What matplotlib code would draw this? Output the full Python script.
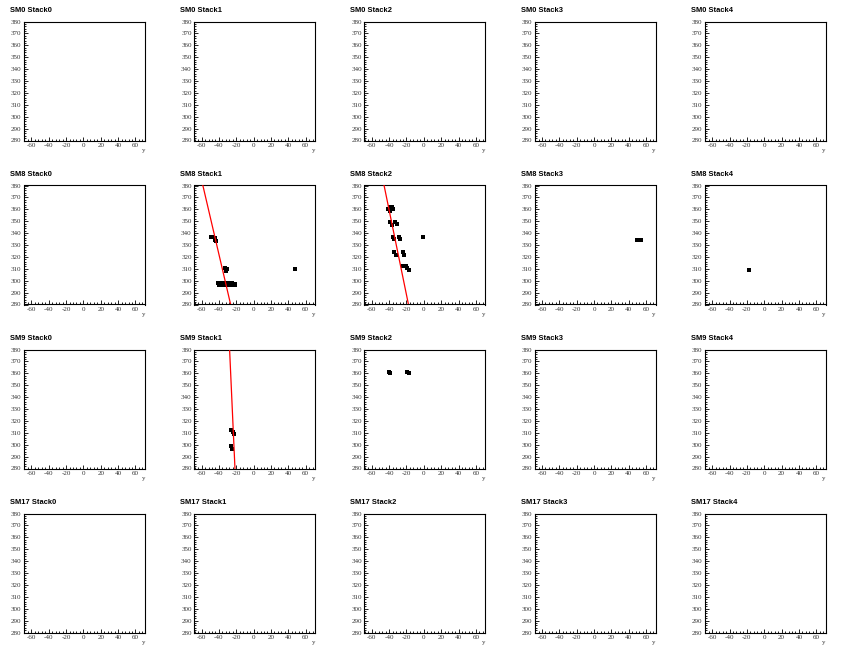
import matplotlib
matplotlib.use("Agg")
import matplotlib.pyplot as plt
from matplotlib.ticker import MultipleLocator
import numpy as np

plt.rcParams["axes.unicode_minus"] = False

# ---- data ----
modules = ["SM0", "SM8", "SM9", "SM17"]
stacks = ["Stack0", "Stack1", "Stack2", "Stack3", "Stack4"]
x_range = (-68.5, 71.0)
y_range = (280, 380)
x_ticks = [-60, -40, -20, 0, 20, 40, 60]
y_ticks = [280, 290, 300, 310, 320, 330, 340, 350, 360, 370, 380]

# hits: (module, stack) -> (y-coordinate list, z-coordinate list)
hits_sm8_s1_y = [-49, -47, -45, -44, -43, -33, -32, -31, -32,
                 -41, -39, -37, -35, -33, -31, -29, -27, -25, -23, -21,
                 -40, -38, -36, -34, -32, -30, -28, -26, -24, -22, 48]
hits_sm8_s1_z = [336.5, 336.5, 336, 334.5, 333.5, 311, 310, 309.5, 308.5,
                 298, 298, 298, 298, 298, 298, 298, 298, 298, 297.5, 297,
                 296.5, 296.5, 296.5, 296.5, 296.5, 296.5, 296.5, 296.5, 296.5, 296.5, 310]
hits_sm8_s2_y = [-41, -39, -37, -36, -39, -39, -33, -31, -37,
                 -36, -34, -28.5, -27, -1.5, -34, -31.5, -24.5, -22.5,
                 -23.5, -21, -19, -17.5]
hits_sm8_s2_z = [360, 362, 362, 360.5, 358.5, 349.5, 349.5, 347.5, 347,
                 337, 335, 337, 335, 337, 324.5, 322, 324.5, 321.5,
                 312, 312, 310.5, 309]
hits_sm8_s3_y = [50, 52, 54]
hits_sm8_s3_z = [334.5, 334.5, 334.5]
hits_sm8_s4_y = [-17]
hits_sm8_s4_z = [309]
hits_sm9_s1_y = [-25.5, -23.5, -22.5, -26, -24.5]
hits_sm9_s1_z = [312, 310.5, 309, 298.5, 296.5]
hits_sm9_s2_y = [-40, -38.5, -19, -17.5]
hits_sm9_s2_z = [361.5, 360, 361.5, 360]

hits = {
    ("SM8", "Stack1"): (hits_sm8_s1_y, hits_sm8_s1_z),
    ("SM8", "Stack2"): (hits_sm8_s2_y, hits_sm8_s2_z),
    ("SM8", "Stack3"): (hits_sm8_s3_y, hits_sm8_s3_z),
    ("SM8", "Stack4"): (hits_sm8_s4_y, hits_sm8_s4_z),
    ("SM9", "Stack1"): (hits_sm9_s1_y, hits_sm9_s1_z),
    ("SM9", "Stack2"): (hits_sm9_s2_y, hits_sm9_s2_z),
}

# fitted tracks: (module, stack) -> (y endpoints, z endpoints)
track_sm8_s1_y = [-58.5, -26.5]
track_sm8_s1_z = [380, 280]
track_sm8_s2_y = [-45.8, -17.7]
track_sm8_s2_z = [380, 280]
track_sm9_s1_y = [-27.7, -21.5]
track_sm9_s1_z = [380, 280]
tracks = {
    ("SM8", "Stack1"): (track_sm8_s1_y, track_sm8_s1_z),
    ("SM8", "Stack2"): (track_sm8_s2_y, track_sm8_s2_z),
    ("SM9", "Stack1"): (track_sm9_s1_y, track_sm9_s1_z),
}

# ---- figure ----
W, H = 851, 656
fig = plt.figure(figsize=(W / 100, H / 100), dpi=100)
fig.patch.set_facecolor("white")

col_w = W / 5.0
row_h = 164.0
ax_left_off = 24.0
ax_w = 121.0
ax_top_off = 21.5
ax_h = 119.0

TICK_FS = 5.0

for r, mod in enumerate(modules):
    for c, st in enumerate(stacks):
        x0 = c * col_w + ax_left_off
        y_top = r * row_h + ax_top_off
        ax = fig.add_axes([x0 / W, 1 - (y_top + ax_h) / H, ax_w / W, ax_h / H])
        ax.set_xlim(*x_range)
        ax.set_ylim(*y_range)
        ax.set_xticks(x_ticks)
        ax.xaxis.set_minor_locator(MultipleLocator(4))
        ax.set_yticks(y_ticks)
        ax.yaxis.set_minor_locator(MultipleLocator(2))
        ax.tick_params(which="both", direction="in", top=False, right=False,
                       width=0.6, color="black", pad=1.8)
        ax.tick_params(which="major", length=3.0)
        ax.tick_params(which="minor", length=1.5)
        ax.set_xticklabels([str(v) for v in x_ticks])
        ax.set_yticklabels([str(v) for v in y_ticks])
        for lab in ax.get_xticklabels() + ax.get_yticklabels():
            lab.set_fontfamily("Liberation Serif")
            lab.set_fontsize(TICK_FS)
            lab.set_color("#333333")
        for sp in ax.spines.values():
            sp.set_linewidth(0.8)
        ax.text(1.0, -0.06, "y", transform=ax.transAxes, ha="right", va="top",
                fontsize=TICK_FS, family="Liberation Serif", color="#333333")
        fig.text((c * col_w + 10) / W, 1 - (r * row_h + 10) / H, f"{mod} {st}",
                 ha="left", va="center", fontsize=5.4, fontweight="bold",
                 family="Liberation Sans")
        key = (mod, st)
        if key in tracks:
            ty, tz = tracks[key]
            ax.plot(ty, tz, color="red", lw=0.9, zorder=3)
        if key in hits:
            hy, hz = hits[key]
            ax.plot(hy, hz, ls="none", marker="s", ms=2.6, color="black",
                    mew=0, zorder=2)

fig.savefig("out.png", dpi=100, facecolor="white")
